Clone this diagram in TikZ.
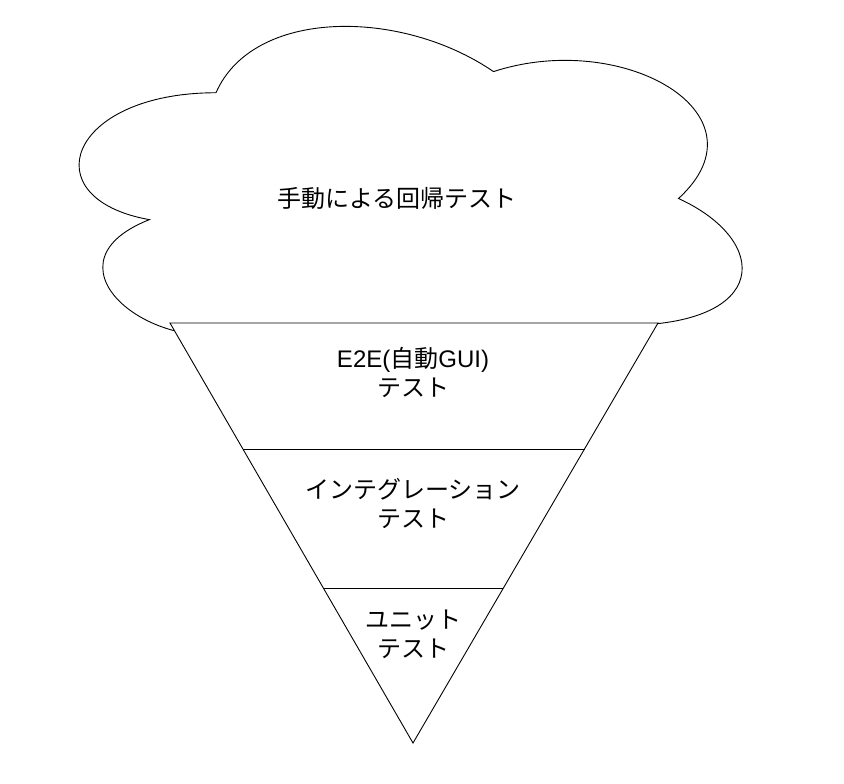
\documentclass[tikz,border=0pt]{standalone}
\usepackage{fontspec}
\setmainfont{Liberation Sans}
\newfontfamily\jp{Noto Sans CJK JP}
\usetikzlibrary{calc,positioning}

\begin{document}
\begin{tikzpicture}[x=1pt,y=-1pt]
    \tikzstyle{outline}=[draw=black, line width=0.9pt, fill=white, line join=miter]
    \tikzstyle{tlabel}=[font=\fontsize{24}{29}\selectfont, align=center, inner sep=0pt]

    \useasboundingbox (0,0) rectangle (844,784);

    % Cloud (drawn in its own unit box)
    \begin{scope}[shift={(31,-13)}, x=740pt, y=-423pt]
        \draw[outline] (0.25,0.25)
            .. controls (0.05,0.25) and (0,0.5) .. (0.16,0.55)
            .. controls (0,0.66) and (0.18,0.9) .. (0.31,0.8)
            .. controls (0.4,1) and (0.7,1) .. (0.8,0.8)
            .. controls (1,0.8) and (1,0.6) .. (0.875,0.5)
            .. controls (1,0.3) and (0.8,0.1) .. (0.625,0.2)
            .. controls (0.5,0.05) and (0.3,0.05) .. (0.25,0.25) -- cycle;
        \node[tlabel] (manual) at (0.495,0.5) {\jp 手動による回帰テスト};
    \end{scope}

    % Inverted triangle
    \coordinate (TL) at (170,323);
    \coordinate (TR) at (658,323);
    \coordinate (Apex) at (413,743);
    \draw[outline] (TL) -- (TR) -- (Apex) -- cycle;

    % Layer borders
    \coordinate (L1) at ($(TL)!0.3!(Apex)$);
    \coordinate (R1) at ($(TR)!0.3!(Apex)$);
    \coordinate (L2) at ($(TL)!0.631!(Apex)$);
    \coordinate (R2) at ($(TR)!0.631!(Apex)$);
    \draw[outline] (L1) -- (R1);
    \draw[outline] (L2) -- (R2);

    % Layer labels
    \node[tlabel] (e2e) at (413,372) {E2E({\jp 自動}GUI)\\{\jp テスト}};
    \node[tlabel] (integ) at (413,503) {\jp インテグレーション\\\jp テスト};
    \node[tlabel] (unit) at (413,634) {\jp ユニット\\\jp テスト};
\end{tikzpicture}
\end{document}
